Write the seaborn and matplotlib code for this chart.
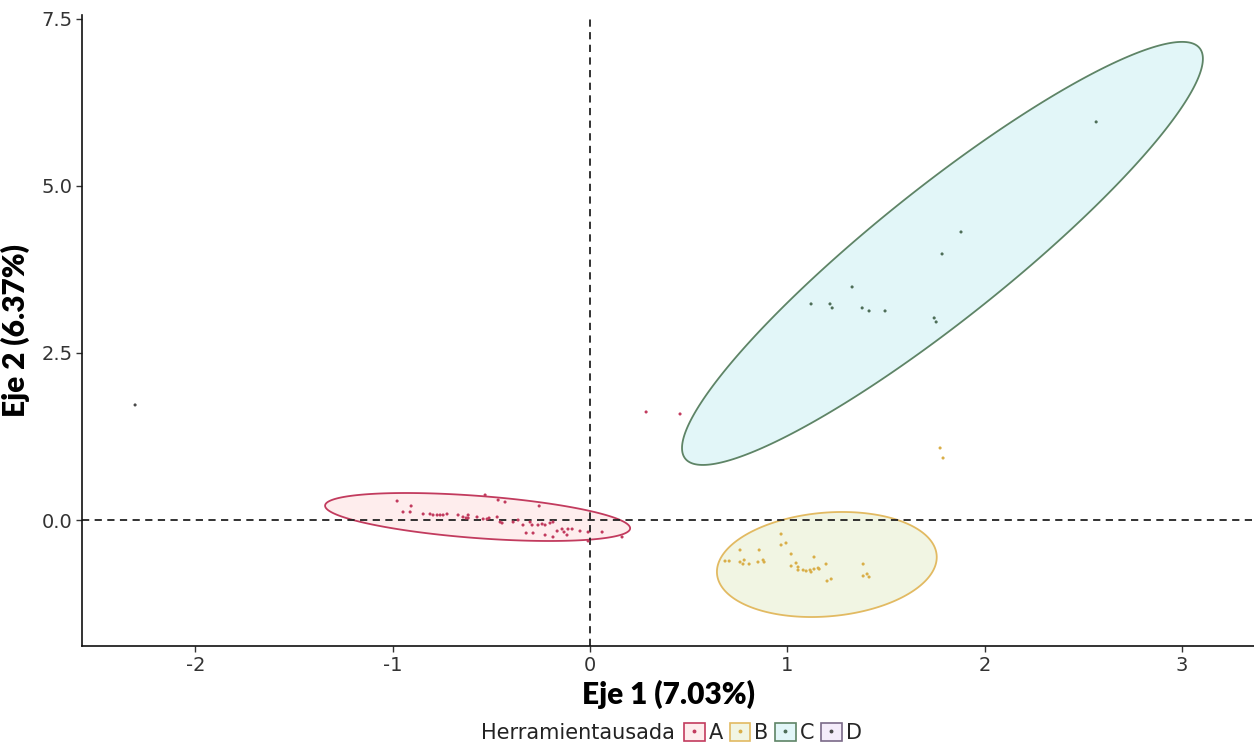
import numpy as np
import pandas as pd
import matplotlib
matplotlib.use("Agg")
import matplotlib.pyplot as plt
from matplotlib.patches import Patch
from matplotlib.lines import Line2D
import seaborn as sns

# ---- data: scores on the first two axes, per tool group ----
a_x = [-0.978, -0.948, -0.907, -0.912, -0.846, -0.811, -0.796, -0.775, -0.760, -0.745,
       -0.725, -0.669, -0.644, -0.628, -0.618, -0.618, -0.573, -0.542, -0.522, -0.512,
       -0.532, -0.466, -0.431, -0.471, -0.446, -0.258, -0.365, -0.390, -0.340, -0.304,
       -0.294, -0.264, -0.243, -0.228, -0.203, -0.188, -0.324, -0.289, -0.228, -0.188,
       -0.167, -0.142, -0.132, -0.112, -0.091, -0.117, -0.051, -0.010, 0.061, -0.010,
       0.162, -0.456, 0.284, 0.456]
a_y = [0.284, 0.120, 0.210, 0.120, 0.090, 0.090, 0.075, 0.075, 0.075, 0.075,
       0.090, 0.075, 0.045, 0.030, 0.075, 0.030, 0.045, 0.015, 0.015, 0.030,
       0.374, 0.299, 0.269, 0.045, -0.045, 0.210, 0.000, -0.030, -0.075, -0.030,
       -0.075, -0.075, -0.060, -0.075, -0.045, -0.030, -0.195, -0.195, -0.225, -0.254,
       -0.165, -0.135, -0.180, -0.135, -0.135, -0.225, -0.165, -0.180, -0.180, -0.314,
       -0.254, -0.030, 1.617, 1.587]

b_x = [0.684, 0.705, 0.760, 0.760, 0.781, 0.775, 0.806, 0.857, 0.851, 0.877,
       0.882, 0.968, 0.968, 0.993, 1.019, 1.019, 1.044, 1.054, 1.054, 1.080,
       1.095, 1.115, 1.120, 1.135, 1.135, 1.156, 1.161, 1.196, 1.201, 1.222,
       1.384, 1.384, 1.404, 1.414, 1.774, 1.789]
b_y = [-0.614, -0.614, -0.449, -0.629, -0.599, -0.659, -0.659, -0.449, -0.629, -0.599,
       -0.629, -0.210, -0.374, -0.344, -0.509, -0.689, -0.644, -0.704, -0.749, -0.749,
       -0.763, -0.749, -0.778, -0.554, -0.734, -0.719, -0.734, -0.659, -0.913, -0.883,
       -0.659, -0.838, -0.808, -0.853, 1.078, 0.928]

c_x = [1.328, 1.120, 1.216, 1.227, 1.379, 1.414, 1.495, 1.744, 1.754, 2.565, 1.880, 1.784]
c_y = [3.488, 3.234, 3.234, 3.174, 3.174, 3.129, 3.129, 3.024, 2.964, 5.958, 4.311, 3.982]

d_x = [-2.306]
d_y = [1.722]

groups = ["A", "B", "C", "D"]

# confidence ellipse summaries (centre, half-ranges, correlation) for groups A-C
ell_group = ["A", "B", "C"]
ell_cx = [-0.570, 1.200, 1.786]
ell_cy = [0.045, -0.666, 3.990]
ell_rx = [0.773, 0.557, 1.320]
ell_ry = [0.359, 0.786, 3.166]
ell_rho = [-0.47, 0.14, 0.92]

x_ticks = [-2, -1, 0, 1, 2, 3]
y_ticks = [0.0, 2.5, 5.0, 7.5]

df = pd.concat([
    pd.DataFrame({"x": a_x, "y": a_y, "g": "A"}),
    pd.DataFrame({"x": b_x, "y": b_y, "g": "B"}),
    pd.DataFrame({"x": c_x, "y": c_y, "g": "C"}),
    pd.DataFrame({"x": d_x, "y": d_y, "g": "D"}),
], ignore_index=True)

# ---- styling ----
sns.set_theme(style="white")
plt.rcParams["font.family"] = ["DejaVu Sans"]

edge_cols = {"A": "#C23B5E", "B": "#E2BA62", "C": "#5E8466", "D": "#7A6A88"}
fill_cols = {"A": "#FEEDED", "B": "#F1F5E3", "C": "#E2F6F8", "D": "#F4ECFA"}
pt_cols = {"A": "#C23B5E", "B": "#D9AE48", "C": "#4E6E58", "D": "#4A4A4A"}

fig = plt.figure(figsize=(12.54, 7.44), dpi=100)
ax = fig.add_axes([0.0654, 0.1317, 0.9346, 0.8483])

# ellipses
t = np.linspace(0, 2 * np.pi, 300)
for g, cx, cy, rx, ry, rho in zip(ell_group, ell_cx, ell_cy, ell_rx, ell_ry, ell_rho):
    ex = cx + rx * np.cos(t)
    ey = cy + ry * (rho * np.cos(t) + np.sqrt(1 - rho ** 2) * np.sin(t))
    ax.fill(ex, ey, facecolor=fill_cols[g], edgecolor=edge_cols[g], lw=1.3, zorder=1)

# reference lines
ax.axhline(0, color="#222222", ls=(0, (4, 3)), lw=1.3, zorder=2)
ax.axvline(0, color="#222222", ls=(0, (4, 3)), lw=1.3, zorder=2)

sns.scatterplot(data=df, x="x", y="y", hue="g", palette=pt_cols, hue_order=groups,
                s=5, linewidth=0, legend=False, ax=ax, zorder=3)

ax.set_xlim(-2.575, 3.365)
ax.set_ylim(-1.886, 7.56)
ax.set_xticks(x_ticks)
ax.set_xticklabels([str(v) for v in x_ticks])
ax.set_yticks(y_ticks)
ax.set_yticklabels([f"{v:.1f}" for v in y_ticks])
ax.tick_params(axis="both", length=4, width=1, color="#333333", labelsize=14,
               labelcolor="#333333", direction="out", bottom=True, left=True, pad=3)
for s in ["top", "right"]:
    ax.spines[s].set_visible(False)
for s in ["left", "bottom"]:
    ax.spines[s].set_color("#111111")
    ax.spines[s].set_linewidth(1.2)

label_font = dict(family=["Lato", "DejaVu Sans"], fontsize=21.5, fontweight="heavy", color="black")
ax.set_xlabel("Eje 1 (7.03%)", labelpad=4, **label_font)
ax.set_ylabel("Eje 2 (6.37%)", labelpad=8, **label_font)

# legend
handles = []
for g in groups:
    box = Patch(facecolor=fill_cols[g], edgecolor=edge_cols[g], lw=1.2)
    dot = Line2D([], [], marker="o", ls="", ms=1.8, color=pt_cols[g])
    handles.append((box, dot))
fig.text(481 / 1254, 1 - 733 / 744, "Herramientausada", fontsize=15, color="#222222",
         ha="left", va="center")
fig.legend(handles, groups, loc="center left", bbox_to_anchor=(684 / 1254, 1 - 733 / 744),
           ncol=4, frameon=False, fontsize=15, handlelength=1.0, handleheight=1.0,
           handletextpad=0.2, columnspacing=0.3, borderpad=0, borderaxespad=0)

fig.savefig("out.png", dpi=100)
